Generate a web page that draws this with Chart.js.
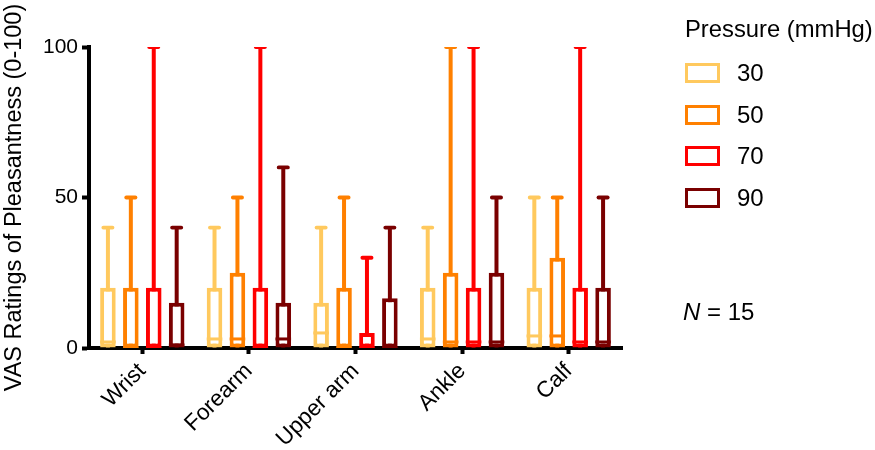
<!DOCTYPE html>
<html lang="en">
<head>
  <meta charset="UTF-8" />
  <title>VAS ratings of pleasantness</title>
  <style>
    body { margin: 0; background: #fff; font-family: Arial, "Liberation Sans", sans-serif; color: #000; }
    .wrap { position: relative; width: 875px; height: 450px; }
    .legend-title { position: absolute; left: 685px; top: 17px; font-size: 23.8px; line-height: 24px; white-space: nowrap; }
    .swatch { position: absolute; left: 685px; width: 35px; height: 20px; box-sizing: border-box; border: 3.5px solid; background: #fff; }
    .lab { position: absolute; left: 737px; font-size: 24px; line-height: 24px; }
    .n { position: absolute; left: 683px; top: 300px; font-size: 24px; line-height: 24px; white-space: nowrap; }
  </style>
</head>
<body>
  <div class="wrap">
    <canvas id="chart" width="875" height="450"></canvas>
    <div id="legend"></div>
    <div class="n"><i>N</i> = 15</div>
  </div>

  <script src="https://cdn.jsdelivr.net/npm/chart.js"></script>
  <script>
    const categories = ['Wrist', 'Forearm', 'Upper arm', 'Ankle', 'Calf'];
    const pressures = ['30', '50', '70', '90'];
    const colors = ['#FFC95E', '#FF8000', '#FF0000', '#7A0000'];

    // per pressure, per body site
    const minVals = [
      [0, 0, 0, 0, 0],
      [0, 0, 0, 0, 0],
      [0, 0, 0, 0, 0],
      [0, 0, 0, 0, 0]
    ];
    const q1Vals = [
      [0, 0, 0, 0, 0],
      [0, 0, 0, 0, 0],
      [0, 0, 0, 0, 0],
      [0, 0, 0, 0, 0]
    ];
    const medianVals = [
      [2, 3, 5, 3, 4],
      [0, 3, 0, 2, 4],
      [0, 0, 0, 2, 2],
      [1, 3, 0, 2, 2]
    ];
    const q3Vals = [
      [20, 20, 15, 20, 20],
      [20, 25, 20, 25, 30],
      [20, 20, 5, 20, 20],
      [15, 15, 16.5, 25, 20]
    ];
    const maxVals = [
      [40, 40, 40, 40, 50],
      [50, 50, 50, 100, 50],
      [100, 100, 30, 100, 100],
      [40, 60, 40, 50, 50]
    ];

    const FONT = 'Arial, "Liberation Sans", sans-serif';

    // legend (html)
    const legend = document.getElementById('legend');
    legend.insertAdjacentHTML('beforeend', '<div class="legend-title">Pressure (mmHg)</div>');
    const rowY = [73, 114.5, 156, 197.5];
    pressures.forEach((p, i) => {
      legend.insertAdjacentHTML('beforeend',
        `<div class="swatch" style="top:${rowY[i] - 10}px;border-color:${colors[i]}"></div>` +
        `<div class="lab" style="top:${rowY[i] - 12}px">${p}</div>`);
    });

    const datasets = [];
    pressures.forEach((p, i) => {
      const stack = 'p' + p;
      // whisker line
      datasets.push({
        label: p + ' whisker', stack, order: 3,
        data: maxVals[i].map((v, j) => [minVals[i][j], v]),
        backgroundColor: colors[i], borderWidth: 0,
        barPercentage: 1, maxBarThickness: 4
      });
      // whisker cap
      datasets.push({
        label: p + ' cap', stack, order: 3,
        data: maxVals[i].map(v => [v - 0.65, v + 0.65]),
        backgroundColor: colors[i], borderWidth: 0,
        barPercentage: 1, maxBarThickness: 13,
        borderRadius: 2, borderSkipped: false
      });
      // box
      datasets.push({
        label: p, stack, order: 2,
        data: q3Vals[i].map((v, j) => [q1Vals[i][j], v]),
        backgroundColor: '#fff', borderColor: colors[i], borderWidth: 4,
        borderSkipped: false, barPercentage: 0.68
      });
      // median
      datasets.push({
        label: p + ' median', stack, order: 1,
        data: medianVals[i].map(v => [v - 0.5, v + 0.5]),
        backgroundColor: colors[i], borderWidth: 0, barPercentage: 0.68
      });
    });

    new Chart(document.getElementById('chart'), {
      type: 'bar',
      data: { labels: categories, datasets },
      options: {
        responsive: false,
        animation: false,
        devicePixelRatio: 1,
        categoryPercentage: 0.86,
        layout: { padding: { top: 47, right: 253, bottom: 0, left: 0 } },
        plugins: { legend: { display: false }, tooltip: { enabled: false } },
        scales: {
          x: {
            offset: true,
            grid: { drawOnChartArea: false, offset: false, tickLength: 6, tickWidth: 4, tickColor: '#000' },
            border: { color: '#000', width: 4 },
            ticks: { color: '#000', font: { family: FONT, size: 22.5 }, minRotation: 45, maxRotation: 45, padding: 4 },
            afterFit(s) { s.height = 102; }
          },
          y: {
            min: 0, max: 100, stacked: false,
            ticks: { stepSize: 50, color: '#000', font: { family: FONT, size: 21 }, padding: 4 },
            grid: { drawOnChartArea: false, tickLength: 7, tickWidth: 4, tickColor: '#000' },
            border: { color: '#000', width: 4 },
            title: { display: true, text: 'VAS Ratings of Pleasantness (0-100)', color: '#000', font: { family: FONT, size: 23.5 }, padding: 0 },
            afterFit(s) { s.width = 89; }
          }
        }
      }
    });
  </script>
</body>
</html>
